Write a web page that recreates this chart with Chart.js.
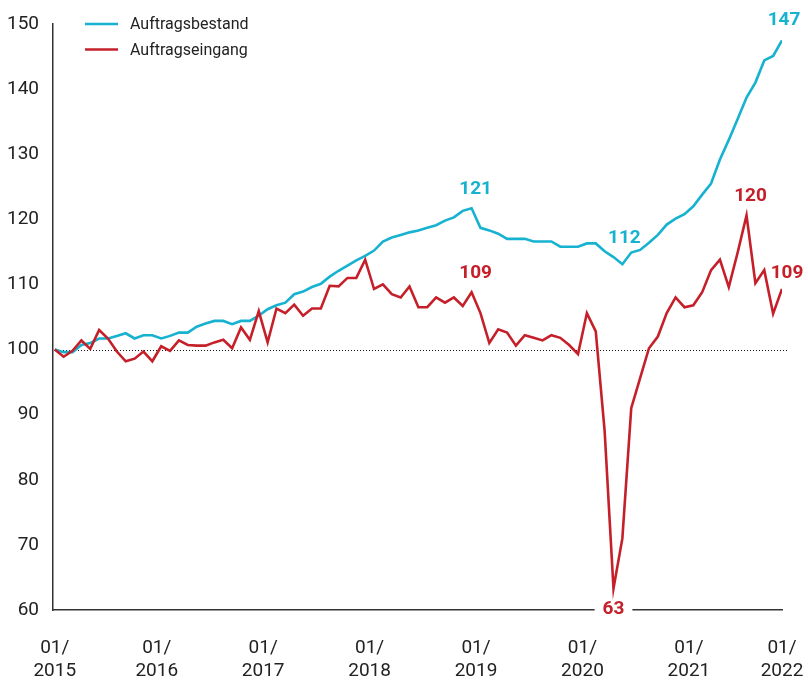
<!DOCTYPE html>
<html>
<head>
<meta charset="utf-8">
<script src="https://cdn.jsdelivr.net/npm/chart.js@4.4.1/dist/chart.umd.min.js"></script>
<style>
  html, body { margin: 0; padding: 0; background: #ffffff; }
  #wrap { width: 808px; height: 680px; }
  canvas { display: block; }
</style>
</head>
<body>
<div id="wrap"><canvas id="c" width="808" height="680"></canvas></div>
<script>
// ---------- DATA ----------
// Monthly categories: 01/2015 ... 11/2021
const months = [];
for (let y = 2015; y <= 2021; y++) {
  for (let m = 1; m <= 12; m++) {
    if (y === 2021 && m > 11) break;
    months.push((m < 10 ? '0' + m : '' + m) + '/' + y);
  }
}

const auftragsbestand = [
  100, 99.6, 99.6, 100.7, 101, 101.7, 101.7, 102.1, 102.5, 101.7,
  102.2, 102.2, 101.7, 102.1, 102.6, 102.6, 103.5, 104, 104.4, 104.4,
  103.9, 104.4, 104.4, 105.2, 106.2, 106.8, 107.2, 108.5, 108.9, 109.6,
  110.1, 111.2, 112.1, 112.9, 113.7, 114.4, 115.2, 116.6, 117.2, 117.6,
  118, 118.3, 118.7, 119.1, 119.8, 120.3, 121.3, 121.7, 118.7, 118.3,
  117.8, 117, 117, 117, 116.6, 116.6, 116.6, 115.8, 115.8, 115.8,
  116.3, 116.3, 115.1, 114.2, 113.1, 114.9, 115.3, 116.4, 117.6, 119.2,
  120.1, 120.8, 122, 123.8, 125.5, 129.2, 132.2, 135.4, 138.7, 141,
  144.4, 145.1, 147.5
];

const auftragseingang = [
  100, 98.9, 99.8, 101.4, 100.1, 103, 101.7, 99.7, 98.2, 98.6,
  99.7, 98.2, 100.5, 99.8, 101.4, 100.7, 100.6, 100.6, 101.1, 101.5,
  100.2, 103.4, 101.5, 105.9, 101.1, 106.3, 105.6, 106.9, 105.2, 106.3,
  106.3, 109.8, 109.7, 111, 111, 113.8, 109.3, 110, 108.5, 108,
  109.7, 106.5, 106.5, 108, 107.2, 108, 106.7, 108.8, 105.6, 101,
  103.1, 102.6, 100.6, 102.2, 101.8, 101.4, 102.2, 101.8, 100.7, 99.3,
  105.6, 102.8, 87.5, 63.3, 71, 91, 95.6, 100.2, 102, 105.6,
  108, 106.5, 106.8, 108.8, 112.2, 113.8, 109.6, 114.9, 120.6, 110.2,
  112.2, 105.5, 109.3
];

const seriesNames = ['Auftragsbestand', 'Auftragseingang'];

const tickLabels = [
  ['01/', '2015'], ['01/', '2016'], ['01/', '2017'], ['01/', '2018'],
  ['01/', '2019'], ['01/', '2020'], ['01/', '2021'], ['01/', '2022']
];

const yTicks = [60, 70, 80, 90, 100, 110, 120, 130, 140, 150];
const baseline = 100;

// Callout value labels
const calloutText   = ['147', '121', '112', '109', '120', '109', '63'];
const calloutSeries = [0, 0, 0, 1, 1, 1, 1];
const calloutIndex  = [82, 47, 64, 47, 78, 82, 63];

// ---------- STYLE ----------
const BLUE = '#16b2d0';
const RED = '#c5202a';
const FONT = 'Roboto, "Liberation Sans", Arial, sans-serif';
const calloutOffsets = [[2, -20], [4, -19], [2, -26], [4, -19], [4, -19], [5, -16], [0, 21]];

// x tick positions: first month, then half a month before each January, then the end
const janIdx = months.map((m, i) => m.startsWith('01/') ? i : -1).filter(i => i >= 0);
const tickValues = janIdx.map((i, k) => k === 0 ? i : i - 0.5).concat([months.length - 1]);

const toXY = arr => arr.map((v, i) => ({ x: i, y: v }));

const refLine = {
  id: 'refLine',
  beforeDatasetsDraw(chart) {
    const { ctx, chartArea } = chart;
    const y = Math.round(chart.scales.y.getPixelForValue(baseline)) + 0.5;
    ctx.save();
    ctx.strokeStyle = '#111';
    ctx.lineWidth = 1;
    ctx.setLineDash([1, 2]);
    ctx.beginPath();
    ctx.moveTo(chartArea.left + 1, y);
    ctx.lineTo(chartArea.right + 7, y);
    ctx.stroke();
    ctx.restore();
  }
};

const callouts = {
  id: 'callouts',
  afterDatasetsDraw(chart) {
    const { ctx } = chart;
    ctx.save();
    ctx.font = 'bold 19px ' + FONT;
    ctx.textAlign = 'center';
    ctx.textBaseline = 'middle';
    calloutText.forEach((t, k) => {
      const dsIndex = calloutSeries[k];
      const pt = chart.getDatasetMeta(dsIndex).data[calloutIndex[k]];
      const x = pt.x + calloutOffsets[k][0];
      const y = pt.y + calloutOffsets[k][1];
      if (t === '63') {
        const w = ctx.measureText(t).width + 16;
        ctx.fillStyle = '#ffffff';
        ctx.fillRect(x - w / 2, y - 6, w, 12);
      }
      ctx.fillStyle = dsIndex === 0 ? BLUE : RED;
      ctx.fillText(t, x, y);
    });
    ctx.restore();
  }
};

const legendPlugin = {
  id: 'customLegend',
  afterDraw(chart) {
    const { ctx } = chart;
    const colors = [BLUE, RED];
    ctx.save();
    ctx.font = '16px ' + FONT;
    ctx.textBaseline = 'middle';
    ctx.textAlign = 'left';
    seriesNames.forEach((name, k) => {
      const y = 24 + k * 25.5;
      ctx.strokeStyle = colors[k];
      ctx.lineWidth = 2.6;
      ctx.beginPath();
      ctx.moveTo(85, y);
      ctx.lineTo(118, y);
      ctx.stroke();
      ctx.fillStyle = '#222';
      ctx.fillText(name, 130, y + 1);
    });
    ctx.restore();
  }
};

new Chart(document.getElementById('c'), {
  type: 'line',
  data: {
    datasets: [
      {
        label: seriesNames[0],
        data: toXY(auftragsbestand),
        borderColor: BLUE,
        borderWidth: 2.6,
        pointRadius: 0,
        tension: 0,
        fill: false,
        order: 1
      },
      {
        label: seriesNames[1],
        data: toXY(auftragseingang),
        borderColor: RED,
        borderWidth: 2.6,
        pointRadius: 0,
        tension: 0,
        fill: false,
        order: 0
      }
    ]
  },
  options: {
    responsive: false,
    animation: false,
    devicePixelRatio: 1,
    layout: { padding: { top: 24, right: 26, left: 0, bottom: 0 } },
    plugins: { legend: { display: false }, tooltip: { enabled: false } },
    scales: {
      x: {
        type: 'linear',
        min: -0.2,
        max: months.length - 1,
        afterBuildTicks: s => { s.ticks = tickValues.map(v => ({ value: v })); },
        afterFit: s => { s.height = 70; s.paddingLeft = 0; s.paddingRight = 0; },
        grid: { display: false, drawTicks: false },
        border: { display: true, color: '#333', width: 1.5 },
        ticks: {
          autoSkip: false,
          maxRotation: 0,
          minRotation: 0,
          padding: 27,
          color: '#222',
          font: { family: FONT, size: 19, lineHeight: 1.2 },
          callback: (v, i) => tickLabels[i]
        }
      },
      y: {
        min: yTicks[0],
        max: yTicks[yTicks.length - 1],
        afterBuildTicks: s => { s.ticks = yTicks.map(v => ({ value: v })); },
        afterFit: s => { s.width = 53; s.paddingTop = 0; s.paddingBottom = 0; },
        grid: { display: false, drawTicks: false },
        border: { display: true, color: '#333', width: 1.5 },
        ticks: {
          padding: 14,
          color: '#222',
          font: { family: FONT, size: 19 },
          callback: v => String(v)
        }
      }
    }
  },
  plugins: [refLine, callouts, legendPlugin]
});
</script>
</body>
</html>
